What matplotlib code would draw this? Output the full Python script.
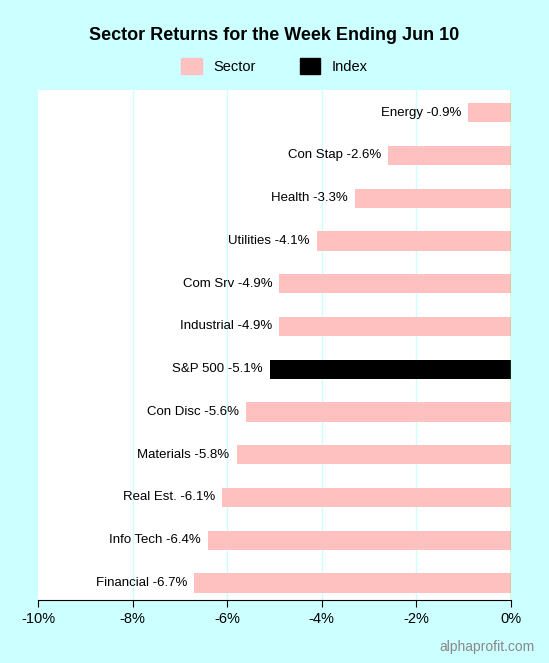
import matplotlib
matplotlib.use("Agg")
import matplotlib.pyplot as plt
from matplotlib.patches import Patch

labels = ["Energy", "Con Stap", "Health", "Utilities", "Com Srv", "Industrial",
          "S&P 500", "Con Disc", "Materials", "Real Est.", "Info Tech", "Financial"]
values = [-0.9, -2.6, -3.3, -4.1, -4.9, -4.9, -5.1, -5.6, -5.8, -6.1, -6.4, -6.7]
is_index = [False]*6 + [True] + [False]*5
ticks = [-10, -8, -6, -4, -2, 0]

bg = "#ccffff"
fig = plt.figure(figsize=(5.49, 6.63), dpi=100, facecolor=bg)
ax = fig.add_axes([38/549, 1-600/663, (511-38)/549, (600-90)/663])
ax.set_facecolor("white")
n = len(labels)
ys = list(range(n))[::-1]
colors = ["black" if i else "#ffc0c0" for i in is_index]
ax.barh(ys, values, height=0.45, color=colors, zorder=2)
for y, v, l in zip(ys, values, labels):
    ax.text(v - 0.15, y, f"{l} {v:.1f}%", ha="right", va="center", fontsize=9.5,
            family="Liberation Sans", zorder=3)
ax.set_xlim(-10, 0)
ax.set_ylim(-0.4, n - 0.47)
for t in ticks[1:-1]:
    ax.axvline(t, color="#ccffff", lw=1, zorder=1)
ax.axvline(0, color="#66cc33", lw=1, zorder=3)
ax.set_xticks(ticks)
ax.set_xticklabels([f"{t}%" for t in ticks], fontsize=10.5, family="Liberation Sans")
ax.set_yticks([])
for s in ax.spines.values():
    s.set_visible(False)
ax.tick_params(axis="x", length=5, color="black")
ax.spines["bottom"].set_visible(True)
fig.text(0.5, 1-35/663, "Sector Returns for the Week Ending Jun 10", ha="center",
         va="center", fontsize=13, fontweight="bold", family="Liberation Sans")
fig.legend(handles=[Patch(color="#ffc0c0", label="Sector"), Patch(color="black", label="Index")],
           loc="center", bbox_to_anchor=(0.5, 1-66/663), ncol=2, frameon=False,
           prop={"family": "Liberation Sans", "size": 10.5}, handlelength=1.4,
           handleheight=1.4, columnspacing=3)
fig.text(1-14/549, 1-647/663, "alphaprofit.com", ha="right", va="center",
         fontsize=10, color="#888888", family="Liberation Sans")
fig.savefig("out.png", dpi=100, facecolor=bg)
